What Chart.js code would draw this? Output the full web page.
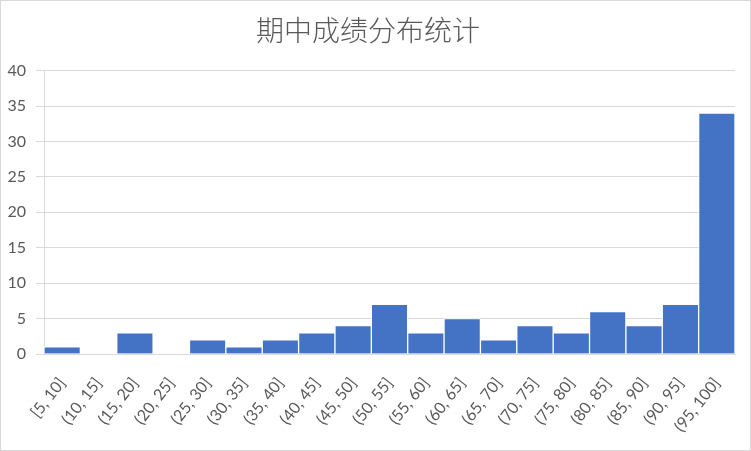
<!DOCTYPE html>
<html>
<head>
<meta charset="utf-8">
<script src="https://cdn.jsdelivr.net/npm/chart.js@4"></script>
<style>
  body { margin: 0; background: #fff; }
  #wrap { width: 751px; height: 451px; box-sizing: border-box; border: 1px solid #d9d9d9; }
  canvas { display: block; }
</style>
</head>
<body>
<div id="wrap"><canvas id="c" width="749" height="449"></canvas></div>
<script>
const bins = ['[5, 10]', '(10, 15]', '(15, 20]', '(20, 25]', '(25, 30]', '(30, 35]', '(35, 40]',
  '(40, 45]', '(45, 50]', '(50, 55]', '(55, 60]', '(60, 65]', '(65, 70]', '(70, 75]',
  '(75, 80]', '(80, 85]', '(85, 90]', '(90, 95]', '(95, 100]'];
const counts = [1, 0, 3, 0, 2, 1, 2, 3, 4, 7, 3, 5, 2, 4, 3, 6, 4, 7, 34];
const chartTitle = '期中成绩分布统计';

const textColor = '#595959';
const tickFont = { family: 'Lato, "Noto Sans", sans-serif', size: 16 };

new Chart(document.getElementById('c'), {
  type: 'bar',
  data: {
    labels: bins,
    datasets: [{
      data: counts,
      backgroundColor: '#4472C4',
      borderColor: '#ffffff',
      borderWidth: 1,
      barPercentage: 1,
      categoryPercentage: 1
    }]
  },
  options: {
    responsive: false,
    animation: false,
    layout: { padding: { left: 0, right: 15, top: 0, bottom: 0 } },
    plugins: {
      legend: { display: false },
      tooltip: { enabled: false },
      title: {
        display: true,
        text: chartTitle,
        color: textColor,
        font: { family: '"Noto Sans CJK SC", sans-serif', size: 28, weight: 300 },
        padding: { top: 13, bottom: 23 }
      }
    },
    scales: {
      x: {
        grid: { display: false },
        border: { color: '#d9d9d9' },
        ticks: { color: textColor, font: tickFont, minRotation: 52, maxRotation: 52, padding: 12 },
        afterFit: s => { s.height = 96; }
      },
      y: {
        min: 0,
        max: 40,
        ticks: { stepSize: 5, color: textColor, font: tickFont, padding: 10 },
        grid: { color: '#d9d9d9' },
        border: { color: '#d9d9d9' },
        afterFit: s => { s.width = 43; }
      }
    }
  }
});
</script>
</body>
</html>
